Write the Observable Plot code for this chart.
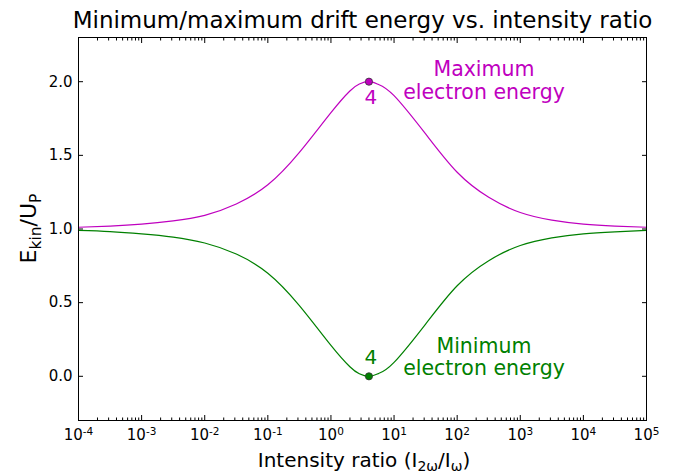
<!DOCTYPE html>
<html><head><meta charset="utf-8">
<script src="https://cdn.jsdelivr.net/npm/d3@7"></script>
<script src="https://cdn.jsdelivr.net/npm/@observablehq/plot@0.6"></script>
<style>body{margin:0;background:#fff;} svg{display:block;}</style>
</head><body><div id="chart"></div>
<script>
// Intensity ratio exponents (log10 of I_2w/I_w) at which values were read
const ratioExponents = [-4, -3.5, -3, -2.5, -2, -1.5, -1, -0.5, 0, 0.3, 0.45, 0.602, 0.75, 1, 1.5, 2, 2.5, 3, 3.5, 4, 4.5, 5];
// Maximum electron energy (E_kin/U_P)
const maxEnergy = [1.012, 1.02, 1.033, 1.055, 1.093, 1.17, 1.30, 1.52, 1.79, 1.937, 1.984, 2.0, 1.982, 1.905, 1.645, 1.385, 1.215, 1.112, 1.06, 1.033, 1.02, 1.012];
// Minimum electron energy (E_kin/U_P)
const minEnergy = [0.99, 0.982, 0.967, 0.945, 0.905, 0.83, 0.70, 0.48, 0.21, 0.065, 0.017, 0.0, 0.018, 0.095, 0.355, 0.615, 0.785, 0.888, 0.94, 0.967, 0.98, 0.99];
// Marked extremum
const peakRatio = [4];
const peakMax = [2.0];
const peakMin = [0.0];
const peakLabel = ["4"];
// Tick labels
const xTickExponents = [-4, -3, -2, -1, 0, 1, 2, 3, 4, 5];
const yTicks = [0.0, 0.5, 1.0, 1.5, 2.0];
const titleText = "Minimum/maximum drift energy vs. intensity ratio";
const annotations = [
  {text: "Maximum\nelectron energy", ratio: 266, value: 2.0, series: "max"},
  {text: "Minimum\nelectron energy", ratio: 266, value: 0.0, series: "min"}
];

const MAGENTA = "#bf00bf";
const GREEN = "#008000";

const rows = ratioExponents.map((e, i) => ({r: Math.pow(10, e), max: maxEnergy[i], min: minEnergy[i]}));
const peaks = peakRatio.map((r, i) => ({r, max: peakMax[i], min: peakMin[i], label: peakLabel[i]}));
const majorX = xTickExponents.map(e => Math.pow(10, e));
const minorX = [];
for (const e of xTickExponents.slice(0, -1)) for (let k = 2; k <= 9; k++) minorX.push(k * Math.pow(10, e));

const plot = Plot.plot({
  width: 675, height: 474,
  marginLeft: 78, marginRight: 29, marginTop: 37, marginBottom: 54,
  x: {type: "log", domain: [1e-4, 1e5]},
  y: {domain: [-0.3, 2.3]},
  style: {fontFamily: "DejaVu Sans", fontSize: "15px", color: "black", background: "white"},
  marks: [
    Plot.axisX(majorX, {anchor: "bottom", tickSize: -5, fill: "none", label: null}),
    Plot.axisX(minorX, {anchor: "bottom", tickSize: -2.5, fill: "none", label: null}),
    Plot.axisX(majorX, {anchor: "top", tickSize: -5, fill: "none", label: null}),
    Plot.axisX(minorX, {anchor: "top", tickSize: -2.5, fill: "none", label: null}),
    Plot.axisX(majorX, {anchor: "bottom", tickSize: 0, tickPadding: 9, label: null, fontSize: 15,
      tickFormat: d => String(Math.round(Math.log10(d)))}),
    Plot.axisY(yTicks, {anchor: "left", tickSize: -5, fill: "none", label: null}),
    Plot.axisY(yTicks, {anchor: "right", tickSize: -5, fill: "none", label: null}),
    Plot.axisY(yTicks, {anchor: "left", tickSize: 0, tickPadding: 6, label: null, fontSize: 15,
      tickFormat: d3.format(".1f")}),
    Plot.line(rows, {x: "r", y: "max", stroke: MAGENTA, strokeWidth: 1.2, curve: "natural"}),
    Plot.line(rows, {x: "r", y: "min", stroke: GREEN, strokeWidth: 1.2, curve: "natural"}),
    Plot.dot(peaks, {x: "r", y: "max", r: 3.6, fill: MAGENTA, stroke: "#333", strokeWidth: 0.8}),
    Plot.dot(peaks, {x: "r", y: "min", r: 3.6, fill: GREEN, stroke: "#333", strokeWidth: 0.8}),
    Plot.text(peaks, {x: "r", y: "max", text: "label", fill: MAGENTA, fontSize: 20, lineAnchor: "bottom", dx: 2, dy: 22}),
    Plot.text(peaks, {x: "r", y: "min", text: "label", fill: GREEN, fontSize: 20, lineAnchor: "bottom", dx: 2, dy: -12}),
    Plot.text(annotations.filter(a => a.series === "max"), {x: "ratio", y: "value", text: "text", fill: MAGENTA, fontSize: 20.5, lineHeight: 1.1, lineAnchor: "bottom", dy: 17}),
    Plot.text(annotations.filter(a => a.series === "min"), {x: "ratio", y: "value", text: "text", fill: GREEN, fontSize: 20.5, lineHeight: 1.1, lineAnchor: "bottom", dy: -1}),
    Plot.text([titleText], {frameAnchor: "top", text: d => d, fontSize: 23, lineAnchor: "bottom", dy: -10}),
    Plot.frame({stroke: "black", strokeWidth: 1})
  ]
});

document.getElementById("chart").appendChild(plot);
const svg = d3.select(plot);

// Superscript exponents on x tick labels
svg.selectAll('g[aria-label="x-axis tick label"] text').each(function() {
  const t = d3.select(this);
  const exp = t.text();
  t.text(null);
  t.append("tspan").text("10");
  t.append("tspan").attr("dy", "-0.45em").attr("font-size", "10.5px").text(exp);
});

// Y axis label: E_kin / U_P
const yl = svg.append("text")
  .attr("transform", "translate(36,228.5) rotate(-90)")
  .attr("text-anchor", "middle").attr("font-size", 22).attr("fill", "black");
yl.append("tspan").text("E");
yl.append("tspan").attr("font-size", 15.5).attr("dy", 5).text("kin");
yl.append("tspan").attr("dy", -5).text("/U");
yl.append("tspan").attr("font-size", 15.5).attr("dy", 5).text("P");

// X axis label: Intensity ratio (I_2w / I_w)
const xl = svg.append("text")
  .attr("x", 364).attr("y", 467)
  .attr("text-anchor", "middle").attr("font-size", 20).attr("fill", "black");
xl.append("tspan").text("Intensity ratio (I");
xl.append("tspan").attr("font-size", 14).attr("dy", 4).text("2ω");
xl.append("tspan").attr("dy", -4).text("/I");
xl.append("tspan").attr("font-size", 14).attr("dy", 4).text("ω");
xl.append("tspan").attr("dy", -4).text(")");
</script>
</body></html>
